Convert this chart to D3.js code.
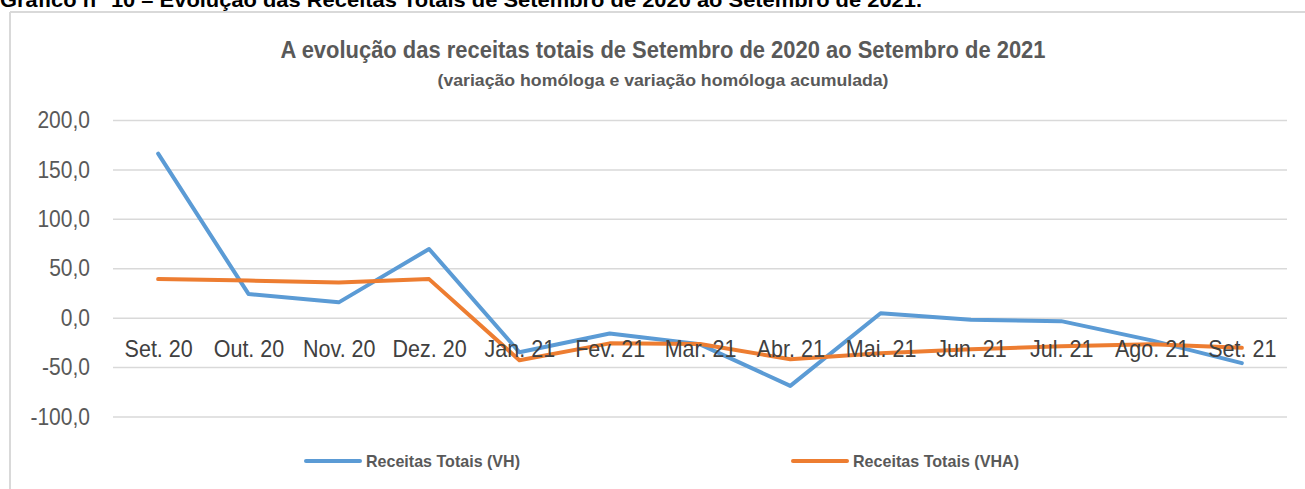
<!DOCTYPE html>
<html lang="pt">
<head>
  <meta charset="UTF-8">
  <title>Receitas Totais</title>
  <script src="https://d3js.org/d3.v7.min.js"></script>
  <style>
    body {
      margin: 0;
      background: #fff;
      font-family: "Liberation Sans", Arial, sans-serif;
    }

    svg {
      display: block;
    }
  </style>
</head>
<body>
  <svg width="1305" height="489"></svg>

  <script>
    const months = ["Set. 20", "Out. 20", "Nov. 20", "Dez. 20", "Jan. 21", "Fev. 21", "Mar. 21",
                    "Abr. 21", "Mai. 21", "Jun. 21", "Jul. 21", "Ago. 21", "Set. 21"];
    const vh = [166, 24, 15.5, 69.5, -35, -16, -27, -69, 4.5, -2, -3.5, -23, -46];
    const vha = [39, 37.5, 35.7, 39, -43, -26, -26.7, -42, -36, -32, -29, -27, -30.5];
    const yTicks = [-100, -50, 0, 50, 100, 150, 200];

    const svg = d3.select("svg");
    const grey = "#595959";

    // squeeze text horizontally: measure at the base size, then draw taller
    function narrow(sel, baseSize, drawSize) {
      sel.each(function () {
        const t = d3.select(this).attr("font-size", baseSize);
        const w = this.getComputedTextLength();
        t.attr("font-size", drawSize)
          .attr("textLength", w)
          .attr("lengthAdjust", "spacingAndGlyphs");
      });
    }

    // frame (only top and left edges fall inside the picture)
    svg.append("line")
      .attr("x1", 10).attr("x2", 1305).attr("y1", 12).attr("y2", 12)
      .attr("stroke", "#d9d9d9").attr("stroke-width", 2);
    svg.append("line")
      .attr("x1", 10).attr("x2", 10).attr("y1", 12).attr("y2", 489)
      .attr("stroke", "#d9d9d9").attr("stroke-width", 2);

    // caption, cut off at the top
    svg.append("text")
      .attr("x", 0).attr("y", 7)
      .attr("font-size", 21).attr("font-weight", "bold").attr("fill", "#000")
      .attr("textLength", 922).attr("lengthAdjust", "spacingAndGlyphs")
      .text("Gráfico n° 10 – Evolução das Receitas Totais de Setembro de 2020 ao Setembro de 2021.");

    svg.append("text")
      .attr("x", 663).attr("y", 58)
      .attr("text-anchor", "middle")
      .attr("font-size", 24).attr("font-weight", "bold").attr("fill", grey)
      .attr("textLength", 765).attr("lengthAdjust", "spacingAndGlyphs")
      .text("A evolução das receitas totais de Setembro de 2020 ao Setembro de 2021");

    svg.append("text")
      .attr("x", 663).attr("y", 86)
      .attr("text-anchor", "middle")
      .attr("font-size", 17).attr("font-weight", "bold").attr("fill", grey)
      .attr("textLength", 451).attr("lengthAdjust", "spacingAndGlyphs")
      .text("(variação homóloga e variação homóloga acumulada)");

    const x = d3.scalePoint()
      .domain(months)
      .range([113, 1287])
      .padding(0.5);

    const y = d3.scaleLinear()
      .domain([-100, 200])
      .range([416.5, 120]);

    const fmt = d => d3.format(".1f")(d).replace(".", ",").replace("−", "-");

    // gridlines + y labels
    const yAxis = d3.axisLeft(y)
      .tickValues(yTicks)
      .tickFormat(fmt)
      .tickSize(-(1287 - 113))
      .tickPadding(23);

    const gy = svg.append("g")
      .attr("transform", "translate(113,0)")
      .call(yAxis);
    gy.select(".domain").remove();
    gy.selectAll(".tick line").attr("stroke", "#d9d9d9").attr("stroke-width", 1.5);
    gy.selectAll(".tick text")
      .attr("fill", grey)
      .attr("font-family", "Liberation Sans, Arial, sans-serif")
      .call(narrow, 21, 24);

    const line = d3.line()
      .x((d, i) => x(months[i]))
      .y(d => y(d));

    svg.append("path")
      .datum(vh)
      .attr("d", line)
      .attr("fill", "none")
      .attr("stroke", "#5B9BD5")
      .attr("stroke-width", 4)
      .attr("stroke-linejoin", "round")
      .attr("stroke-linecap", "round");

    svg.append("path")
      .datum(vha)
      .attr("d", line)
      .attr("fill", "none")
      .attr("stroke", "#ED7D31")
      .attr("stroke-width", 4)
      .attr("stroke-linejoin", "round")
      .attr("stroke-linecap", "round");

    // category labels sit just under the zero line
    const xAxis = d3.axisBottom(x).tickSize(0).tickPadding(0);
    const gx = svg.append("g")
      .attr("transform", `translate(0,${y(0) + 39})`)
      .call(xAxis);
    gx.select(".domain").remove();
    gx.selectAll(".tick text")
      .attr("dy", 0)
      .attr("fill", "#404040")
      .attr("font-family", "Liberation Sans, Arial, sans-serif")
      .call(narrow, 21.5, 24);

    // legend
    const legendItems = [
      { name: "Receitas Totais (VH)", color: "#5B9BD5", x: 306, w: 154 },
      { name: "Receitas Totais (VHA)", color: "#ED7D31", x: 793, w: 166 }
    ];
    const lg = svg.append("g").selectAll("g")
      .data(legendItems)
      .join("g")
      .attr("transform", d => `translate(${d.x},461)`);
    lg.append("line")
      .attr("x1", 0).attr("x2", 54)
      .attr("stroke", d => d.color)
      .attr("stroke-width", 4)
      .attr("stroke-linecap", "round");
    lg.append("text")
      .attr("x", 60).attr("y", 6)
      .attr("font-size", 17).attr("font-weight", "bold").attr("fill", grey)
      .attr("textLength", d => d.w).attr("lengthAdjust", "spacingAndGlyphs")
      .text(d => d.name);
  </script>
</body>
</html>
